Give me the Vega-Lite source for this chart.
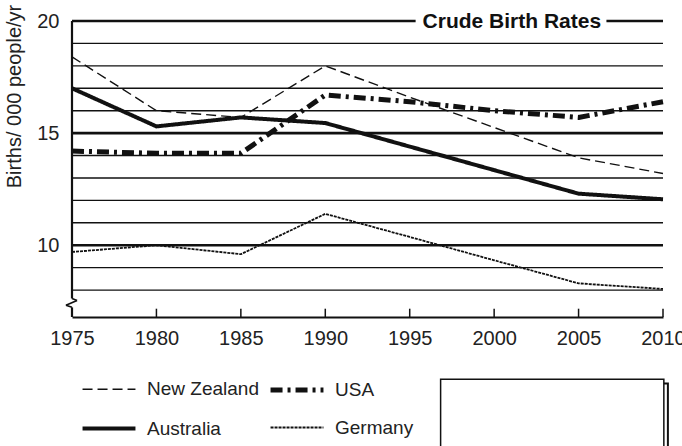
{
  "$schema": "https://vega.github.io/schema/vega-lite/v6.json",
  "width": 591,
  "height": 296,
  "autosize": "none",
  "padding": {"left": 72, "top": 21, "right": 19, "bottom": 129},
  "config": {"view": {"stroke": null}, "font": "Liberation Sans", "text": {"font": "Liberation Sans"}},
  "data": {"values": [{}]},
  "layer": [
    {
      "data": {"values": [{"v": 8}, {"v": 9}, {"v": 10}, {"v": 11}, {"v": 12}, {"v": 13}, {"v": 14}, {"v": 15}, {"v": 16}, {"v": 17}, {"v": 18}, {"v": 19}]},
      "mark": {"type": "rule", "color": "#111"},
      "encoding": {
        "y": {"field": "v", "type": "quantitative", "scale": {"domain": [6.8, 20], "nice": false, "zero": false}},
        "x": {"datum": 1975, "type": "quantitative", "scale": {"domain": [1975, 2010], "nice": false, "zero": false}},
        "x2": {"datum": 2010},
        "strokeWidth": {"condition": {"test": "datum.v % 5 === 0", "value": 2.6}, "value": 1.4}
      }
    },
    {
      "data": {"values": [{"tick": 1975}, {"tick": 1980}, {"tick": 1985}, {"tick": 1990}, {"tick": 1995}, {"tick": 2000}, {"tick": 2005}, {"tick": 2010}]},
      "mark": {"type": "rule", "color": "#111", "strokeWidth": 1.5},
      "encoding": {"x": {"field": "tick", "type": "quantitative"}, "y": {"datum": 6.8, "type": "quantitative"}, "y2": {"datum": 7.17}}
    },
    {
      "mark": {"type": "rule", "color": "#111", "strokeWidth": 2.6},
      "encoding": {"x": {"datum": 1975, "type": "quantitative"}, "x2": {"datum": 1995.35}, "y": {"datum": 20, "type": "quantitative"}}
    },
    {
      "mark": {"type": "rule", "color": "#111", "strokeWidth": 2.6},
      "encoding": {"x": {"datum": 2006.65, "type": "quantitative"}, "x2": {"datum": 2010}, "y": {"datum": 20, "type": "quantitative"}}
    },
    {
      "mark": {"type": "rule", "color": "#111", "strokeWidth": 2.2},
      "encoding": {"x": {"datum": 1975, "type": "quantitative"}, "y": {"datum": 20, "type": "quantitative"}, "y2": {"datum": 7.63}}
    },
    {
      "mark": {"type": "rule", "color": "#111", "strokeWidth": 1.6},
      "encoding": {"x": {"datum": 1975, "type": "quantitative"}, "x2": {"datum": 1975.3}, "y": {"datum": 7.63, "type": "quantitative"}, "y2": {"datum": 7.54}}
    },
    {
      "mark": {"type": "rule", "color": "#111", "strokeWidth": 1.6},
      "encoding": {"x": {"datum": 1975.3, "type": "quantitative"}, "x2": {"datum": 1974.64}, "y": {"datum": 7.54, "type": "quantitative"}, "y2": {"datum": 7.32}}
    },
    {
      "mark": {"type": "rule", "color": "#111", "strokeWidth": 1.6},
      "encoding": {"x": {"datum": 1974.64, "type": "quantitative"}, "x2": {"datum": 1975}, "y": {"datum": 7.32, "type": "quantitative"}, "y2": {"datum": 7.23}}
    },
    {
      "mark": {"type": "rule", "color": "#111", "strokeWidth": 2.2},
      "encoding": {"x": {"datum": 1975, "type": "quantitative"}, "y": {"datum": 7.23, "type": "quantitative"}, "y2": {"datum": 6.8}}
    },
    {
      "mark": {"type": "text", "text": "Crude Birth Rates", "fontWeight": "bold", "fontSize": 21, "align": "center", "baseline": "middle", "color": "#111", "dy": 1},
      "encoding": {"x": {"datum": 2001.05, "type": "quantitative"}, "y": {"datum": 20, "type": "quantitative"}}
    },
    {
      "data": {"values": [
        {"country": "New Zealand", "year": 1975, "rate": 18.4},
        {"country": "New Zealand", "year": 1980, "rate": 16.0},
        {"country": "New Zealand", "year": 1985, "rate": 15.7},
        {"country": "New Zealand", "year": 1990, "rate": 18.0},
        {"country": "New Zealand", "year": 1995, "rate": 16.6},
        {"country": "New Zealand", "year": 2000, "rate": 15.25},
        {"country": "New Zealand", "year": 2005, "rate": 13.9},
        {"country": "New Zealand", "year": 2010, "rate": 13.2},
        {"country": "USA", "year": 1975, "rate": 14.2},
        {"country": "USA", "year": 1980, "rate": 14.1},
        {"country": "USA", "year": 1985, "rate": 14.1},
        {"country": "USA", "year": 1990, "rate": 16.7},
        {"country": "USA", "year": 1995, "rate": 16.4},
        {"country": "USA", "year": 2000, "rate": 16.0},
        {"country": "USA", "year": 2005, "rate": 15.7},
        {"country": "USA", "year": 2010, "rate": 16.4},
        {"country": "Australia", "year": 1975, "rate": 17.0},
        {"country": "Australia", "year": 1980, "rate": 15.3},
        {"country": "Australia", "year": 1985, "rate": 15.7},
        {"country": "Australia", "year": 1990, "rate": 15.45},
        {"country": "Australia", "year": 1995, "rate": 14.4},
        {"country": "Australia", "year": 2000, "rate": 13.35},
        {"country": "Australia", "year": 2005, "rate": 12.3},
        {"country": "Australia", "year": 2010, "rate": 12.05},
        {"country": "Germany", "year": 1975, "rate": 9.7},
        {"country": "Germany", "year": 1980, "rate": 10.0},
        {"country": "Germany", "year": 1985, "rate": 9.6},
        {"country": "Germany", "year": 1990, "rate": 11.4},
        {"country": "Germany", "year": 1995, "rate": 10.37},
        {"country": "Germany", "year": 2000, "rate": 9.33},
        {"country": "Germany", "year": 2005, "rate": 8.3},
        {"country": "Germany", "year": 2010, "rate": 8.05}
      ]},
      "mark": {"type": "line", "color": "#111", "strokeCap": "butt", "strokeJoin": "round"},
      "encoding": {
        "x": {"field": "year", "type": "quantitative",
          "axis": {"values": [1975, 1980, 1985, 1990, 1995, 2000, 2005, 2010], "format": "d", "title": null, "grid": false,
            "domainColor": "#111", "domainWidth": 2.2, "ticks": false,
            "labelFontSize": 20, "labelColor": "#222", "labelPadding": 11, "labelFlush": false, "labelOverlap": false, "labelBound": false}},
        "y": {"field": "rate", "type": "quantitative",
          "axis": {"values": [10, 15, 20], "grid": false, "domain": false, "ticks": false, "tickSize": 0,
            "labelFontSize": 20, "labelColor": "#222", "labelPadding": 13,
            "title": "Births/ 000 people/yr", "titleFontSize": 20, "titleFontWeight": "normal", "titleColor": "#222",
            "titleAngle": -90, "titleAlign": "center", "titleBaseline": "middle", "titleX": -58, "titleY": 75}},
        "strokeDash": {"field": "country", "type": "nominal",
          "scale": {"domain": ["New Zealand", "USA", "Australia", "Germany"], "range": [[10, 5], [12, 5, 3, 5], [1, 0], [3, 1]]},
          "legend": {"orient": "none", "legendX": 8, "legendY": 340, "columns": 2, "direction": "horizontal", "title": null, "symbolType": "stroke", "symbolSize": 2800,
            "symbolStrokeColor": "#111", "labelFontSize": 19, "labelColor": "#222", "labelOffset": 9, "columnPadding": 1, "rowPadding": -9}},
        "strokeWidth": {"field": "country", "type": "nominal",
          "scale": {"type": "ordinal", "domain": ["New Zealand", "USA", "Australia", "Germany"], "range": [1.4, 5, 4, 1.8]},
          "legend": {"orient": "none", "legendX": 8, "legendY": 340, "columns": 2, "direction": "horizontal", "title": null, "symbolType": "stroke", "symbolSize": 2800,
            "symbolStrokeColor": "#111", "labelFontSize": 19, "labelColor": "#222", "labelOffset": 9, "columnPadding": 1, "rowPadding": -9}}
      }
    },
    {
      "mark": {"type": "rect", "fill": null, "stroke": "#111", "strokeWidth": 2},
      "encoding": {"x": {"datum": 1997.07, "type": "quantitative"}, "x2": {"datum": 2010.29}, "y": {"datum": 3.84, "type": "quantitative"}, "y2": {"datum": -1}}
    },
    {
      "mark": {"type": "rect", "fill": "white", "stroke": "#111", "strokeWidth": 1.5},
      "encoding": {"x": {"datum": 1996.83, "type": "quantitative"}, "x2": {"datum": 2010.05}, "y": {"datum": 4.02, "type": "quantitative"}, "y2": {"datum": -1}}
    }
  ]
}
